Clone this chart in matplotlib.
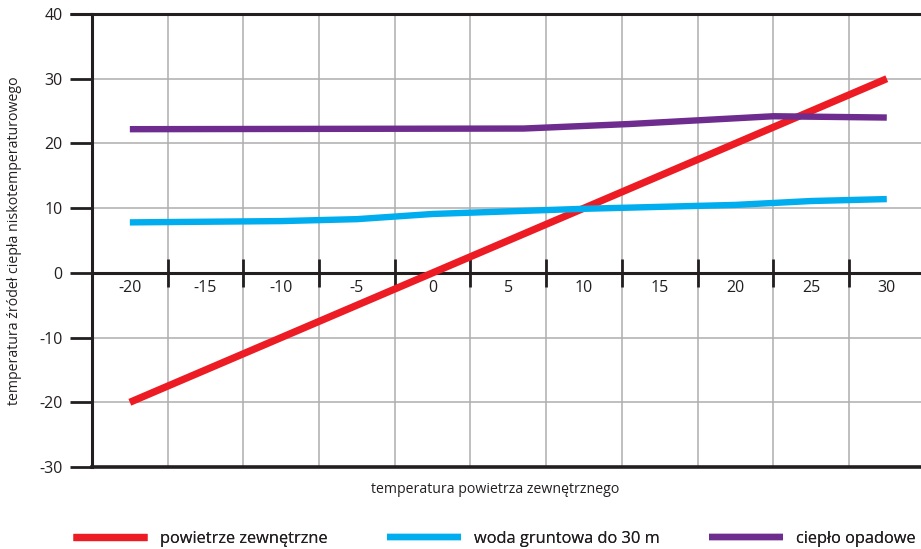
import matplotlib.pyplot as plt
import numpy as np

plt.rcParams['font.family'] = ['Open Sans', 'DejaVu Sans']

# data
air_x = [-20, -15, -10, -5, 0, 5, 10, 15, 20, 25, 30]
air_y = [-20, -15, -10, -5, 0, 5, 10, 15, 20, 25, 30]

water_x = [-20, -15, -10, -5, 0, 5, 10, 15, 20, 25, 30]
water_y = [7.8, 7.9, 8.0, 8.3, 9.1, 9.5, 9.9, 10.2, 10.5, 11.1, 11.4]

rain_x = [-20, 6, 13, 22.5, 30]
rain_y = [22.2, 22.3, 23.0, 24.2, 24.0]

x_labels = [-20, -15, -10, -5, 0, 5, 10, 15, 20, 25, 30]
y_ticks = [-30, -20, -10, 0, 10, 20, 30, 40]

series_names = ['powietrze zewnętrzne', 'woda gruntowa do 30 m', 'ciepło opadowe']
colors = ['#ED1C24', '#00AEEF', '#6E2C8F']
ink = '#231F20'

W, H = 921, 549
fig = plt.figure(figsize=(W / 100, H / 100), dpi=100)
ax = fig.add_axes([92 / W, 1 - 467 / H, 1 - 92 / W, (467 - 14) / H])

ax.set_xlim(-22.5, 32.26)
ax.set_ylim(-30, 40)

# grid
for gx in np.arange(-17.5, 30, 5):
    ax.axvline(gx, color='#AEAEAE', lw=1.1, zorder=1)
for gy in [-20, -10, 10, 20, 30]:
    ax.axhline(gy, color='#AEAEAE', lw=1.1, zorder=1)

lines = []
for xs, ys, c, name, lw in [(air_x, air_y, colors[0], series_names[0], 5.2),
                            (water_x, water_y, colors[1], series_names[1], 4.6),
                            (rain_x, rain_y, colors[2], series_names[2], 4.6)]:
    ln, = ax.plot(xs, ys, color=c, lw=lw, solid_capstyle='butt', label=name, zorder=3)
    lines.append(ln)

# spines: x-axis runs through zero, extra black frame line at -30
ax.spines['right'].set_visible(False)
ax.spines['bottom'].set_position(('data', 0))
for s in ['left', 'top', 'bottom']:
    ax.spines[s].set_linewidth(2.2)
    ax.spines[s].set_color(ink)
ax.axhline(-30, color=ink, lw=2.6, clip_on=False, zorder=2)
ax.plot([-22.5 - 22 / 15.14, -22.5], [40, 40], color=ink, lw=2.2, clip_on=False,
        solid_capstyle='butt')

ax.set_xticks(np.arange(-17.5, 30, 5))
ax.set_xticklabels([])
ax.tick_params(axis='x', which='major', direction='inout', length=20, width=2, color=ink)
ax.set_xticks(x_labels, minor=True)
ax.set_xticklabels([str(v) for v in x_labels], minor=True)
ax.tick_params(axis='x', which='minor', length=0, pad=5, labelsize=11.5, labelcolor=ink)

ax.set_yticks(y_ticks)
ax.set_yticklabels([str(v) for v in y_ticks])
ax.tick_params(axis='y', direction='out', length=16, width=2, color=ink, pad=5,
               labelsize=11.5, labelcolor=ink)

ax.set_ylabel('temperatura źródeł ciepła niskotemperaturowego', fontsize=10.2, color=ink)
ax.yaxis.set_label_coords(-70 / 829, 0.5)
ax.text((495 - 92) / 829, -15 / 453, 'temperatura powietrza zewnętrznego',
        transform=ax.transAxes, ha='center', va='top', fontsize=10.2, color=ink)

# one legend entry per column, placed where the reference has them
legend_left = [73, 387, 709]
for ln, px in zip(lines, legend_left):
    leg = fig.legend(handles=[ln], loc='center left', bbox_to_anchor=(px / W, 1 - 539 / H),
                     frameon=False, fontsize=11.8, handlelength=4.5, handletextpad=0.8,
                     labelcolor=ink, borderaxespad=0, borderpad=0)
    fig.add_artist(leg)

fig.savefig('out.png', dpi=100)
